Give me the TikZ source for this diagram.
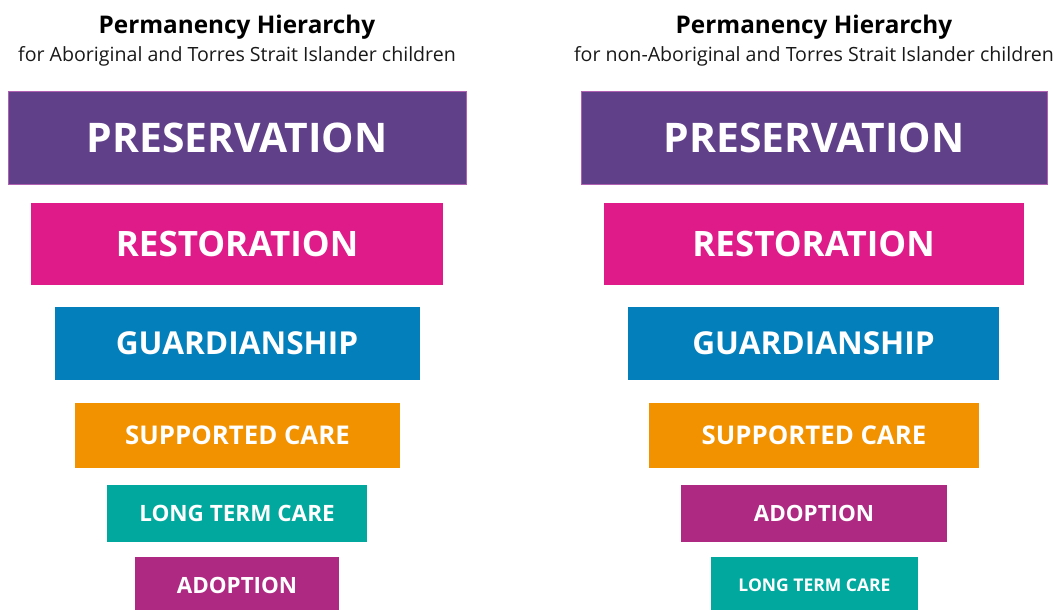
\documentclass[tikz,border=0pt]{standalone}
\usepackage{fontspec}
\setmainfont{Open Sans}
\definecolor{cpres}{HTML}{61408A}
\definecolor{cpresb}{HTML}{B060B0}
\definecolor{crest}{HTML}{DF1B8A}
\definecolor{cguard}{HTML}{037FBB}
\definecolor{csupp}{HTML}{F29200}
\definecolor{clong}{HTML}{00A89D}
\definecolor{cadop}{HTML}{AE2981}
\begin{document}
\begin{tikzpicture}[x=1pt,y=-1pt,
  lvl/.style={rectangle, inner sep=0pt, text=white, font=\bfseries, line width=0.8pt},
  ttl/.style={font=\bfseries\fontsize{24.3}{28}\selectfont, text=black, inner sep=0pt, anchor=base},
  sub/.style={font=\fontsize{19.6}{22}\selectfont, text=black!90, inner sep=0pt, anchor=base}]
\useasboundingbox (0,0) rectangle (1058,610);
\clip (0,0) rectangle (1058,610);
% titles
\node[ttl] (lt) at (237,34) {Permanency Hierarchy};
\node[sub] (ls) at (237,62) {for Aboriginal and Torres Strait Islander children};
\node[ttl] (rt) at (814,34) {Permanency Hierarchy};
\node[sub] (rs) at (814,62) {for non-Aboriginal and Torres Strait Islander children};
% left column
\node[lvl, fill=cpres, draw=cpresb, minimum width=458, minimum height=93, font=\bfseries\fontsize{40.8}{42}\selectfont] (lpres) at (237,137.5) {PRESERVATION};
\node[lvl, fill=crest, minimum width=412, minimum height=82, font=\bfseries\fontsize{35}{36}\selectfont] (lrest) at (237,243.5) {RESTORATION};
\node[lvl, fill=cguard, minimum width=365, minimum height=73, font=\bfseries\fontsize{31.6}{32}\selectfont] (lguard) at (237,343.5) {GUARDIANSHIP};
\node[lvl, fill=csupp, minimum width=325, minimum height=65, font=\bfseries\fontsize{25.8}{26}\selectfont] (lsupp) at (237.5,435.5) {SUPPORTED CARE};
\node[lvl, fill=clong, minimum width=260, minimum height=57, font=\bfseries\fontsize{22.5}{23}\selectfont] (llong) at (237,513.5) {LONG TERM CARE};
\node[lvl, fill=cadop, minimum width=204, minimum height=57, font=\bfseries\fontsize{22.4}{23}\selectfont] (ladop) at (237,585.5) {ADOPTION};
% right column
\node[lvl, fill=cpres, draw=cpresb, minimum width=466, minimum height=93, font=\bfseries\fontsize{40.8}{42}\selectfont] (rpres) at (814,137.5) {PRESERVATION};
\node[lvl, fill=crest, minimum width=420, minimum height=82, font=\bfseries\fontsize{35}{36}\selectfont] (rrest) at (813.5,243.5) {RESTORATION};
\node[lvl, fill=cguard, minimum width=371, minimum height=73, font=\bfseries\fontsize{31.6}{32}\selectfont] (rguard) at (813.5,343.5) {GUARDIANSHIP};
\node[lvl, fill=csupp, minimum width=330, minimum height=65, font=\bfseries\fontsize{25.8}{26}\selectfont] (rsupp) at (814,435.5) {SUPPORTED CARE};
\node[lvl, fill=cadop, minimum width=266, minimum height=57, font=\bfseries\fontsize{22.4}{23}\selectfont] (radop) at (814,513.5) {ADOPTION};
\node[lvl, fill=clong, minimum width=207, minimum height=57, font=\bfseries\fontsize{17.5}{18}\selectfont] (rlong) at (814.5,585.5) {LONG TERM CARE};
\end{tikzpicture}
\end{document}
